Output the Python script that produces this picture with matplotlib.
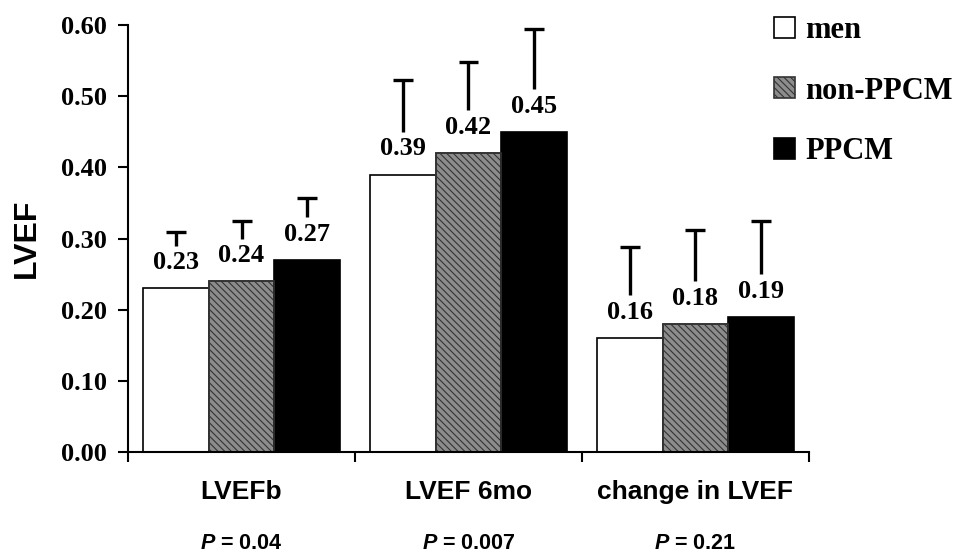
import numpy as np
import matplotlib.pyplot as plt
from matplotlib.patches import Patch

# datos
categorias = ['LVEFb', 'LVEF 6mo', 'change in LVEF']
p_valores = ['0.04', '0.007', '0.21']
grupos = ['men', 'non-PPCM', 'PPCM']
men = [0.23, 0.39, 0.16]
non_ppcm = [0.24, 0.42, 0.18]
ppcm = [0.27, 0.45, 0.19]
sd_men = [0.079, 0.133, 0.128]
sd_non = [0.085, 0.128, 0.132]
sd_ppcm = [0.087, 0.144, 0.135]

plt.rcParams['mathtext.fontset'] = 'custom'
plt.rcParams['mathtext.it'] = 'Liberation Sans:italic:bold'
plt.rcParams['hatch.linewidth'] = 0.8

serif = 'Liberation Serif'
sans = 'Liberation Sans'

fig = plt.figure(figsize=(9.63, 5.58), dpi=100)
ax = fig.add_axes([0.133, 0.190, 0.707, 0.765])

x = np.arange(len(categorias))
w = 0.29
hueco = 0.06   # el bigote empieza encima de la etiqueta
cap = 0.044
estilos = [
    dict(facecolor='white', edgecolor='black', hatch=None),
    dict(facecolor='#8c8c8c', edgecolor='#333333', hatch='\\\\\\\\\\'),
    dict(facecolor='black', edgecolor='black', hatch=None),
]
series = [men, non_ppcm, ppcm]
sds = [sd_men, sd_non, sd_ppcm]

for k, (vals, sd, st) in enumerate(zip(series, sds, estilos)):
    pos = x + (k - 1) * w
    vals = np.array(vals)
    sd = np.array(sd)
    ax.bar(pos, vals, width=w, facecolor=st['facecolor'], edgecolor=st['edgecolor'],
           hatch=st['hatch'], linewidth=1.2, zorder=2)
    if k == 1:
        ax.bar(pos, vals, width=w, facecolor='none', edgecolor='#333333',
               linewidth=1.2, zorder=2.1)
    # bigotes superiores (solo media + DE)
    ax.vlines(pos, vals + hueco, vals + sd, colors='black', linewidth=2.4)
    ax.hlines(vals + sd, pos - cap, pos + cap, colors='black', linewidth=2.4)
    for xi, v in zip(pos, vals):
        ax.text(xi, v + 0.036, f'{v:.2f}', ha='center', va='center',
                fontsize=19, fontweight='bold', family=serif, zorder=3)

ax.set_xlim(-0.5, 2.5)
ax.set_ylim(0, 0.60)
ticks = np.arange(0, 0.61, 0.1)
ax.set_yticks(ticks)
ax.set_yticklabels([f'{t:.2f}' for t in ticks], fontsize=19, fontweight='bold', family=serif)
ax.set_xticks([-0.5, 0.5, 1.5, 2.5])
ax.set_xticklabels([])
ax.tick_params(axis='both', direction='out', length=7, width=1.5)
ax.tick_params(axis='y', pad=8)
for s in ['top', 'right']:
    ax.spines[s].set_visible(False)
for s in ['left', 'bottom']:
    ax.spines[s].set_linewidth(1.5)

ax.set_ylabel('LVEF', fontsize=23, fontweight='bold', family=sans, labelpad=14)

for xi, cat, p in zip(x, categorias, p_valores):
    ax.text(xi, -0.056, cat, ha='center', va='center', fontsize=19,
            fontweight='bold', family=sans, clip_on=False)
    ax.text(xi, -0.129, f'$P$ = {p}', ha='center', va='center', fontsize=15.5,
            fontweight='bold', family=sans, clip_on=False)

handles = [Patch(facecolor=st['facecolor'], edgecolor=st['edgecolor'] if st['hatch'] else 'black',
                 hatch=st['hatch'], linewidth=1.2) for st in estilos]
fig.legend(handles, grupos, loc='upper left', bbox_to_anchor=(0.804, 0.971),
           frameon=False, borderpad=0, borderaxespad=0,
           handlelength=0.68, handleheight=0.68, handletextpad=0.33,
           labelspacing=1.03, prop=dict(family=serif, weight='bold', size=22))

fig.savefig('out.png', dpi=100)
